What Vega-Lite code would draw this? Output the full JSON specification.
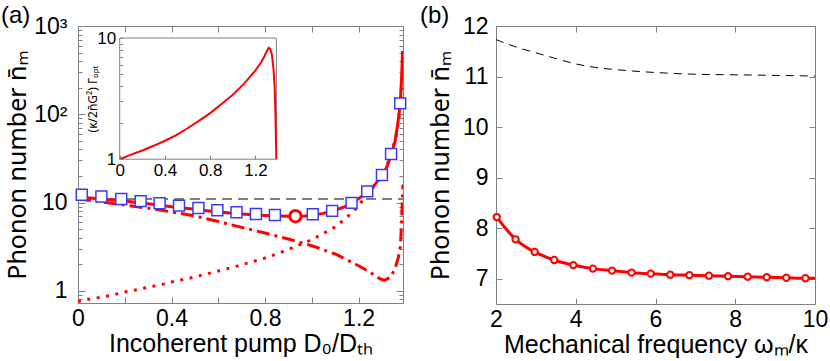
{
  "$schema": "https://vega.github.io/schema/vega-lite/v6.json",
  "padding": {"left": 0, "top": 3, "right": 0, "bottom": 0},
  "bounds": "flush",
  "spacing": 93,
  "config": {
    "font": "Liberation Sans",
    "view": {"stroke": "#808080", "strokeWidth": 1},
    "axis": {"grid": false, "domain": false, "labelColor": "black", "titleColor": "black", "tickColor": "#808080", "titleFontWeight": "normal", "labelFontSize": 23, "titleFontSize": 25, "labelOverlap": false, "labelFlush": false},
    "title": {"fontWeight": "normal", "fontSize": 24, "color": "black"}
  },
  "datasets": {
    "hline": [{"x": 0, "y": 11}, {"x": 1.39, "y": 11}],
    "solid": [
      {"x": 0, "y": 11.5}, {"x": 0.05, "y": 11.25}, {"x": 0.1, "y": 11.0}, {"x": 0.15, "y": 10.7}, {"x": 0.2, "y": 10.4},
      {"x": 0.25, "y": 10.05}, {"x": 0.3, "y": 9.7}, {"x": 0.35, "y": 9.35}, {"x": 0.4, "y": 9.0}, {"x": 0.45, "y": 8.7},
      {"x": 0.5, "y": 8.4}, {"x": 0.55, "y": 8.1}, {"x": 0.6, "y": 7.85}, {"x": 0.65, "y": 7.62}, {"x": 0.7, "y": 7.42},
      {"x": 0.75, "y": 7.27}, {"x": 0.8, "y": 7.14}, {"x": 0.85, "y": 7.05}, {"x": 0.9, "y": 7.0}, {"x": 0.93, "y": 7.0},
      {"x": 0.97, "y": 7.05}, {"x": 1.0, "y": 7.2}, {"x": 1.05, "y": 7.55}, {"x": 1.1, "y": 8.2}, {"x": 1.15, "y": 9.2},
      {"x": 1.2, "y": 11.1}, {"x": 1.24, "y": 13.3}, {"x": 1.27, "y": 16}, {"x": 1.3, "y": 20.3}, {"x": 1.32, "y": 25},
      {"x": 1.34, "y": 35}, {"x": 1.355, "y": 48}, {"x": 1.365, "y": 70}, {"x": 1.372, "y": 95}, {"x": 1.378, "y": 133},
      {"x": 1.383, "y": 230}, {"x": 1.386, "y": 350}, {"x": 1.388, "y": 520}
    ],
    "dashdot": [
      {"x": 0, "y": 11.0}, {"x": 0.1, "y": 10.2}, {"x": 0.2, "y": 9.4}, {"x": 0.3, "y": 8.65}, {"x": 0.4, "y": 7.85},
      {"x": 0.5, "y": 7.05}, {"x": 0.6, "y": 6.1}, {"x": 0.7, "y": 5.25}, {"x": 0.8, "y": 4.52}, {"x": 0.9, "y": 3.87},
      {"x": 1.0, "y": 3.25}, {"x": 1.1, "y": 2.62}, {"x": 1.2, "y": 1.93}, {"x": 1.25, "y": 1.62}, {"x": 1.29, "y": 1.38},
      {"x": 1.31, "y": 1.32}, {"x": 1.335, "y": 1.42}, {"x": 1.355, "y": 1.75}, {"x": 1.37, "y": 2.4}, {"x": 1.379, "y": 3.2},
      {"x": 1.384, "y": 6}, {"x": 1.387, "y": 10.5}, {"x": 1.39, "y": 16}
    ],
    "dotted": [
      {"x": 0.0, "y": 0.76}, {"x": 0.04, "y": 0.8}, {"x": 0.08, "y": 0.834}, {"x": 0.12, "y": 0.869}, {"x": 0.16, "y": 0.916},
      {"x": 0.2, "y": 0.974}, {"x": 0.24, "y": 1.016}, {"x": 0.28, "y": 1.07}, {"x": 0.32, "y": 1.127}, {"x": 0.36, "y": 1.187},
      {"x": 0.4, "y": 1.264}, {"x": 0.44, "y": 1.33}, {"x": 0.48, "y": 1.4}, {"x": 0.52, "y": 1.49}, {"x": 0.56, "y": 1.58},
      {"x": 0.6, "y": 1.68}, {"x": 0.64, "y": 1.79}, {"x": 0.68, "y": 1.91}, {"x": 0.72, "y": 2.05}, {"x": 0.76, "y": 2.2},
      {"x": 0.8, "y": 2.36}, {"x": 0.84, "y": 2.57}, {"x": 0.9, "y": 2.95}, {"x": 1.0, "y": 3.8}, {"x": 1.1, "y": 5.3},
      {"x": 1.18, "y": 8.0}, {"x": 1.24, "y": 12.5}, {"x": 1.29, "y": 18.5}, {"x": 1.33, "y": 30}, {"x": 1.36, "y": 55},
      {"x": 1.375, "y": 100}, {"x": 1.385, "y": 200}
    ],
    "squares": [
      {"x": 0.016, "y": 12.3}, {"x": 0.1, "y": 11.7}, {"x": 0.185, "y": 11.0}, {"x": 0.268, "y": 10.4}, {"x": 0.349, "y": 9.85},
      {"x": 0.432, "y": 9.25}, {"x": 0.515, "y": 8.71}, {"x": 0.596, "y": 8.21}, {"x": 0.678, "y": 7.79}, {"x": 0.761, "y": 7.45},
      {"x": 0.842, "y": 7.26}, {"x": 1.004, "y": 7.4}, {"x": 1.087, "y": 8.06}, {"x": 1.17, "y": 9.93}, {"x": 1.237, "y": 13.4},
      {"x": 1.3, "y": 20.5}, {"x": 1.339, "y": 35.5}, {"x": 1.378, "y": 133}
    ],
    "optimum": [{"x": 0.93, "y": 7.02}],
    "insetbox": [{"x": 0, "x2": 1.385, "y": 1, "y2": 10}],
    "inset": [
      {"x": 0, "y": 1.0}, {"x": 0.1, "y": 1.09}, {"x": 0.2, "y": 1.18}, {"x": 0.3, "y": 1.29}, {"x": 0.4, "y": 1.42},
      {"x": 0.5, "y": 1.58}, {"x": 0.6, "y": 1.8}, {"x": 0.7, "y": 2.07}, {"x": 0.8, "y": 2.4}, {"x": 0.9, "y": 2.85},
      {"x": 1.0, "y": 3.4}, {"x": 1.1, "y": 4.2}, {"x": 1.2, "y": 5.4}, {"x": 1.25, "y": 6.3}, {"x": 1.28, "y": 7.1},
      {"x": 1.3, "y": 7.8}, {"x": 1.316, "y": 8.3}, {"x": 1.33, "y": 8.15}, {"x": 1.345, "y": 7.3}, {"x": 1.36, "y": 5.5},
      {"x": 1.37, "y": 3.8}, {"x": 1.377, "y": 2.3}, {"x": 1.382, "y": 1.3}, {"x": 1.385, "y": 1.0}
    ],
    "bdash": [
      {"x": 2, "y": 11.73}, {"x": 2.3, "y": 11.64}, {"x": 2.6, "y": 11.56}, {"x": 3, "y": 11.47}, {"x": 3.44, "y": 11.37},
      {"x": 4, "y": 11.25}, {"x": 4.5, "y": 11.18}, {"x": 5.1, "y": 11.13}, {"x": 6, "y": 11.08}, {"x": 6.8, "y": 11.05},
      {"x": 8.4, "y": 11.03}, {"x": 10, "y": 11.01}
    ],
    "bcirc": [
      {"x": 2.02, "y": 8.22}, {"x": 2.49, "y": 7.78}, {"x": 2.97, "y": 7.53}, {"x": 3.46, "y": 7.37}, {"x": 3.94, "y": 7.27},
      {"x": 4.43, "y": 7.2}, {"x": 4.91, "y": 7.16}, {"x": 5.4, "y": 7.12}, {"x": 5.88, "y": 7.1}, {"x": 6.37, "y": 7.08},
      {"x": 6.85, "y": 7.07}, {"x": 7.34, "y": 7.06}, {"x": 7.82, "y": 7.05}, {"x": 8.31, "y": 7.04}, {"x": 8.79, "y": 7.03},
      {"x": 9.28, "y": 7.02}, {"x": 9.76, "y": 7.01}
    ],
    "bline": [
      {"x": 2.0, "y": 8.24}, {"x": 2.49, "y": 7.78}, {"x": 2.97, "y": 7.53}, {"x": 3.46, "y": 7.37}, {"x": 3.94, "y": 7.27},
      {"x": 4.43, "y": 7.2}, {"x": 4.91, "y": 7.16}, {"x": 5.4, "y": 7.12}, {"x": 5.88, "y": 7.1}, {"x": 6.37, "y": 7.08},
      {"x": 6.85, "y": 7.07}, {"x": 7.34, "y": 7.06}, {"x": 7.82, "y": 7.05}, {"x": 8.31, "y": 7.04}, {"x": 8.79, "y": 7.03},
      {"x": 9.28, "y": 7.02}, {"x": 9.76, "y": 7.01}, {"x": 10, "y": 7.01}
    ]
  },
  "hconcat": [
    {
      "width": 325,
      "height": 277,
      "title": {"text": "(a)", "anchor": "start", "frame": "group", "dx": -77, "offset": -13},
      "layer": [
        {
          "encoding": {
            "x": {"field": "x", "type": "quantitative",
                  "scale": {"domain": [0, 1.39], "nice": false, "zero": false},
                  "axis": {"orient": "bottom", "values": [0, 0.2, 0.4, 0.6, 0.8, 1.0, 1.2],
                           "labelExpr": "(round(datum.value*10) % 4 == 0) ? format(datum.value, '~g') : ''",
                           "tickSize": -6, "labelPadding": 10, "title": "Incoherent pump D₀/Dₜₕ", "titlePadding": 1}},
            "y": {"field": "y", "type": "quantitative",
                  "scale": {"type": "log", "domain": [0.73, 1000], "nice": false},
                  "axis": {"orient": "left",
                           "values": [0.8, 0.9, 1, 2, 3, 4, 5, 6, 7, 8, 9, 10, 20, 30, 40, 50, 60, 70, 80, 90, 100, 200, 300, 400, 500, 600, 700, 800, 900, 1000],
                           "labelExpr": "datum.value == 1 ? '1' : datum.value == 10 ? '10' : datum.value == 100 ? '10²' : datum.value == 1000 ? '10³' : ''",
                           "tickSize": {"condition": {"test": "indexof([1,10,100,1000], datum.value) >= 0", "value": -7}, "value": -4},
                           "labelPadding": 18, "title": "Phonon number n̄ₘ", "titleFont": "Noto Sans", "titlePadding": 3}}
          },
          "layer": [
            {"data": {"name": "hline"}, "mark": {"type": "line", "color": "#808080", "strokeWidth": 2, "strokeDash": [10, 6]}},
            {"data": {"name": "dotted"}, "mark": {"type": "line", "color": "#ff0000", "strokeWidth": 3, "strokeDash": [3, 6.5], "clip": true}},
            {"data": {"name": "dashdot"}, "mark": {"type": "line", "color": "#ff0000", "strokeWidth": 3, "strokeDash": [13, 5, 3, 5], "clip": true}},
            {"data": {"name": "solid"}, "mark": {"type": "line", "color": "#ff0000", "strokeWidth": 3, "clip": true}},
            {"data": {"name": "squares"}, "mark": {"type": "point", "shape": "square", "size": 120, "filled": false, "fill": "white", "fillOpacity": 1, "stroke": "#3a3aff", "strokeWidth": 1.5, "opacity": 1}},
            {"data": {"name": "optimum"}, "mark": {"type": "point", "shape": "circle", "size": 130, "filled": false, "fill": "white", "fillOpacity": 1, "stroke": "#ff0000", "strokeWidth": 3, "opacity": 1}}
          ]
        },
        {
          "encoding": {
            "x": {"field": "x", "type": "quantitative",
                  "scale": {"domain": [0, 1.385], "nice": false, "zero": false, "range": [41.7, 198.4]},
                  "axis": {"orient": "bottom", "offset": -143.8, "values": [0, 0.4, 0.8, 1.2],
                           "labelExpr": "datum.value == 0 ? '0' : format(datum.value, '.1f')",
                           "tickSize": -4, "labelPadding": 7, "labelFontSize": 17, "title": null, "zindex": 2}},
            "y": {"field": "y", "type": "quantitative",
                  "scale": {"type": "log", "domain": [1, 10], "nice": false, "range": [133.2, 12]},
                  "axis": {"orient": "left", "offset": -41.7, "values": [1, 2, 3, 4, 5, 6, 7, 8, 9, 10],
                           "labelExpr": "datum.value == 1 ? '1' : datum.value == 10 ? '10' : ''",
                           "tickSize": -3, "labelPadding": 7, "labelFontSize": 17,
                           "title": "(κ/2n̄G²) Γₒₚₜ", "titleFont": "Noto Sans", "titleFontSize": 12, "titlePadding": -3, "zindex": 2}}
          },
          "layer": [
            {"data": {"name": "insetbox"}, "mark": {"type": "rect", "fill": "white", "stroke": "#808080", "strokeWidth": 1},
             "encoding": {"x2": {"field": "x2"}, "y2": {"field": "y2"}}},
            {"data": {"name": "inset"}, "mark": {"type": "line", "color": "#ff0000", "strokeWidth": 2}}
          ]
        },
        {
          "data": {"name": "hline"},
          "mark": {"type": "point", "opacity": 0},
          "encoding": {
            "x": {"field": "x", "type": "quantitative",
                  "scale": {"domain": [0, 1.39], "nice": false, "zero": false},
                  "axis": {"orient": "top", "values": [0, 0.2, 0.4, 0.6, 0.8, 1.0, 1.2], "labels": false, "tickSize": -6, "title": null}},
            "y": {"field": "y", "type": "quantitative",
                  "scale": {"type": "log", "domain": [0.73, 1000], "nice": false},
                  "axis": {"orient": "right",
                           "values": [0.8, 0.9, 1, 2, 3, 4, 5, 6, 7, 8, 9, 10, 20, 30, 40, 50, 60, 70, 80, 90, 100, 200, 300, 400, 500, 600, 700, 800, 900, 1000],
                           "labels": false, "title": null,
                           "tickSize": {"condition": {"test": "indexof([1,10,100,1000], datum.value) >= 0", "value": -7}, "value": -4}}}
          }
        }
      ],
      "resolve": {"scale": {"x": "independent", "y": "independent"}, "axis": {"x": "independent", "y": "independent"}}
    },
    {
      "width": 319,
      "height": 278,
      "title": {"text": "(b)", "anchor": "start", "frame": "group", "dx": -76, "offset": -13},
      "layer": [
        {
          "encoding": {
            "x": {"field": "x", "type": "quantitative",
                  "scale": {"domain": [2, 10], "nice": false, "zero": false},
                  "axis": {"orient": "bottom", "values": [2, 4, 6, 8, 10], "tickSize": -6, "labelPadding": 10, "title": "Mechanical frequency ωₘ/κ", "titlePadding": 1}},
            "y": {"field": "y", "type": "quantitative",
                  "scale": {"domain": [6.5, 12], "nice": false, "zero": false},
                  "axis": {"orient": "left", "values": [7, 8, 9, 10, 11, 12], "tickSize": -6, "labelPadding": 14, "title": "Phonon number n̄ₘ", "titleFont": "Noto Sans", "titlePadding": 9}}
          },
          "layer": [
            {"data": {"name": "bdash"}, "mark": {"type": "line", "color": "black", "strokeWidth": 1, "strokeDash": [8, 6], "interpolate": "monotone"}},
            {"data": {"name": "bline"}, "mark": {"type": "line", "color": "#ff0000", "strokeWidth": 3, "interpolate": "monotone"}},
            {"data": {"name": "bcirc"}, "mark": {"type": "point", "shape": "circle", "size": 40, "filled": false, "fill": "white", "fillOpacity": 1, "stroke": "#ff0000", "strokeWidth": 2, "opacity": 1}}
          ]
        },
        {
          "data": {"name": "bdash"},
          "mark": {"type": "point", "opacity": 0},
          "encoding": {
            "x": {"field": "x", "type": "quantitative",
                  "scale": {"domain": [2, 10], "nice": false, "zero": false},
                  "axis": {"orient": "top", "values": [2, 4, 6, 8, 10], "labels": false, "tickSize": -6, "title": null}},
            "y": {"field": "y", "type": "quantitative",
                  "scale": {"domain": [6.5, 12], "nice": false, "zero": false},
                  "axis": {"orient": "right", "values": [7, 8, 9, 10, 11, 12], "labels": false, "tickSize": -6, "title": null}}
          }
        }
      ],
      "resolve": {"scale": {"x": "independent", "y": "independent"}, "axis": {"x": "independent", "y": "independent"}}
    }
  ]
}
